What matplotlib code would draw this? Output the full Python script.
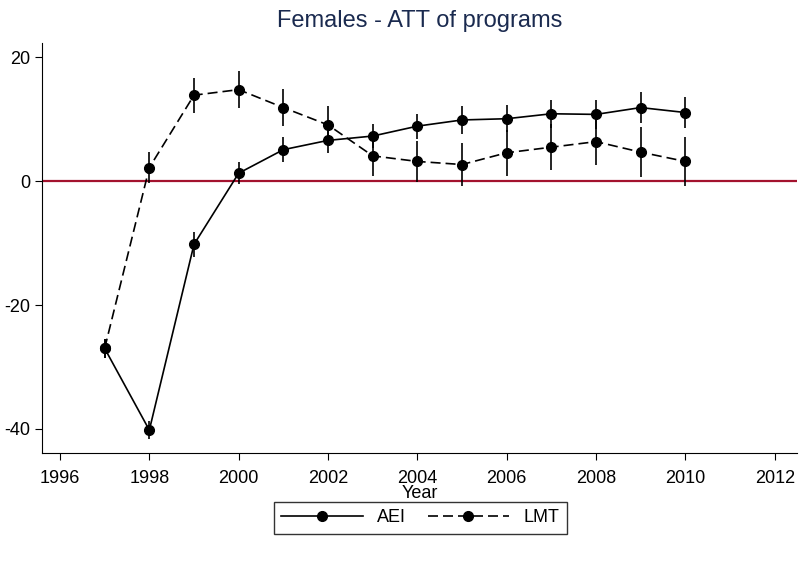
import numpy as np
import matplotlib.pyplot as plt
from matplotlib.lines import Line2D

years = [1997, 1998, 1999, 2000, 2001, 2002, 2003, 2004, 2005, 2006, 2007, 2008, 2009, 2010]
aei = [-27.0, -40.2, -10.2, 1.3, 5.1, 6.6, 7.3, 8.9, 9.9, 10.1, 10.9, 10.8, 11.9, 11.1]
aei_err = [1.5, 1.5, 2.0, 1.8, 2.0, 2.0, 2.0, 2.0, 2.2, 2.2, 2.3, 2.4, 2.5, 2.5]
lmt = [-27.0, 2.2, 13.9, 14.8, 11.9, 9.1, 4.1, 3.2, 2.7, 4.6, 5.5, 6.4, 4.7, 3.2]
lmt_err = [1.5, 2.5, 2.8, 3.0, 3.0, 3.0, 3.3, 3.3, 3.5, 3.7, 3.7, 3.8, 4.0, 4.0]

plt.rcParams['font.family'] = ['Arial', 'Liberation Sans', 'DejaVu Sans']
plt.rcParams['axes.unicode_minus'] = False
fig = plt.figure(figsize=(8.1, 5.61), dpi=100)
ax = fig.add_axes([0.052, 0.1925, 0.932, 0.7305])

ax.axhline(0, color='#a3122e', lw=1.6, zorder=1)
ax.errorbar(years, aei, yerr=aei_err, fmt='-o', color='black', lw=1.2, ms=7, elinewidth=1.2, capsize=0, zorder=3)
ax.errorbar(years, lmt, yerr=lmt_err, fmt='--o', color='black', lw=1.2, ms=7, elinewidth=1.2, capsize=0, zorder=3, dashes=(6, 3))

ax.set_xlim(1995.6, 2012.5)
ax.set_ylim(-43.9, 22.3)
ax.set_xticks(range(1996, 2013, 2))
ax.set_yticks([-40, -20, 0, 20])
ax.tick_params(labelsize=13, length=5)
ax.tick_params(axis='x', pad=7)
ax.spines['top'].set_visible(False)
ax.spines['right'].set_visible(False)
ax.set_xlabel('Year', fontsize=13, labelpad=-1)
ax.set_title('Females - ATT of programs', fontsize=17, color='#1a2a4f', pad=12)

handles = [Line2D([], [], color='black', marker='o', ms=7, lw=1.2, ls='-'),
           Line2D([], [], color='black', marker='o', ms=7, lw=1.2, dashes=(6, 3))]
fig.legend(handles, ['AEI', 'LMT'], loc='center', bbox_to_anchor=(0.519, 0.077), ncol=2,
           fontsize=13, frameon=True, fancybox=False, edgecolor='black', handlelength=4.5,
           columnspacing=1.2)

fig.savefig('out.png', dpi=100)
